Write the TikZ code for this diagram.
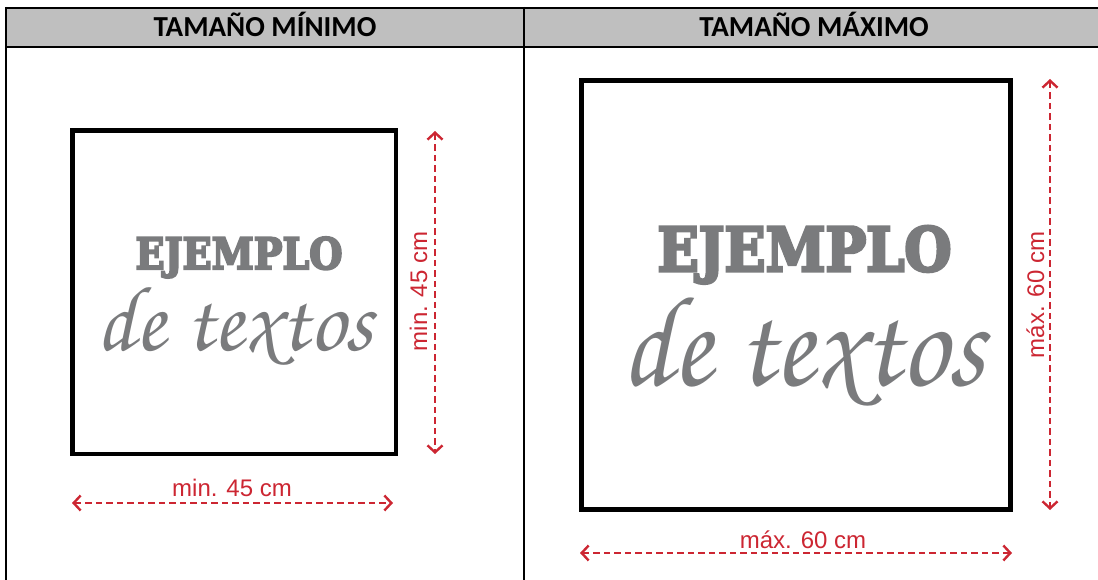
\documentclass[tikz,border=0pt]{standalone}
\usepackage[T1]{fontenc}
\usepackage{fontspec}
\usepackage{graphicx}
\usetikzlibrary{arrows.meta}
\setmainfont{Liberation Sans}
\newfontfamily\headfont{Carlito}
\newfontfamily\slabfont{DejaVu Serif}[BoldFeatures={FakeBold=5}]
\newcommand\chorusfont{\fontencoding{T1}\fontfamily{pzc}\fontseries{mb}\fontshape{it}\selectfont}
\definecolor{hdrgray}{RGB}{191,191,191}
\definecolor{txtgray}{RGB}{122,123,125}
\definecolor{dimred}{RGB}{204,38,50}
\tikzset{
  tblline/.style={line width=2pt, black},
  frame/.style={line width=#1, black},
  dimline/.style={dimred, line width=2.4pt, dash pattern=on 6.5pt off 4pt,
    {Straight Barb[length=7pt,width=15pt,line width=2.4pt]}-{Straight Barb[length=7pt,width=15pt,line width=2.4pt]}},
  dimlabel/.style={text=dimred, font=\fontsize{24}{28}\selectfont, inner sep=0pt, anchor=base},
  hdr/.style={font=\headfont\bfseries\fontsize{29}{32}\selectfont, inner sep=0pt, anchor=base},
  ejem/.style={text=txtgray, inner sep=0pt, anchor=base},
}
\begin{document}
\begin{tikzpicture}[x=1pt,y=-1pt]
\useasboundingbox (0,0) rectangle (1098,580);
% table
\fill[hdrgray] (6,8) rectangle (1098,47);
\draw[tblline] (6,8) -- (1098,8);
\draw[tblline] (6,47) -- (1098,47);
\draw[tblline] (6,7) -- (6,580);
\draw[tblline] (524,7) -- (524,580);
\node[hdr] (h1) at (265,37) {TAMAÑO MÍNIMO};
\node[hdr] (h2) at (814,37) {TAMAÑO MÁXIMO};
% left square
\draw[frame=4.5pt] (72.5,130.5) rectangle (396,454);
\node[ejem] (e1) at (239,269) {\resizebox{207pt}{32pt}{\slabfont\bfseries EJEMPLO}};
\node[ejem] (d1) at (235,350) {\resizebox{276pt}{66pt}{\chorusfont de textos}};
\coordinate (v1a) at (435,131);
\coordinate (v1b) at (435,454);
\draw[dimline] (v1a) -- (v1b);
\node[dimlabel, rotate=90] (lv1) at (427,291.5) {min. 45 cm};
\coordinate (h1a) at (72,503);
\coordinate (h1b) at (393,503);
\draw[dimline] (h1a) -- (h1b);
\node[dimlabel] (lh1) at (232,496.5) {min. 45 cm};
% right square
\draw[frame=5pt] (581,80.5) rectangle (1010,509);
\node[ejem] (e2) at (804.5,271) {\resizebox{294pt}{45pt}{\slabfont\bfseries EJEMPLO}};
\node[ejem] (d2) at (803,385) {\resizebox{363pt}{92pt}{\chorusfont de textos}};
\coordinate (v2a) at (1050,79);
\coordinate (v2b) at (1050,510);
\draw[dimline] (v2a) -- (v2b);
\node[dimlabel, rotate=90] (lv2) at (1044,295) {máx. 60 cm};
\coordinate (h2a) at (580,553);
\coordinate (h2b) at (1012,553);
\draw[dimline] (h2a) -- (h2b);
\node[dimlabel] (lh2) at (803,548) {máx. 60 cm};
\end{tikzpicture}
\end{document}
